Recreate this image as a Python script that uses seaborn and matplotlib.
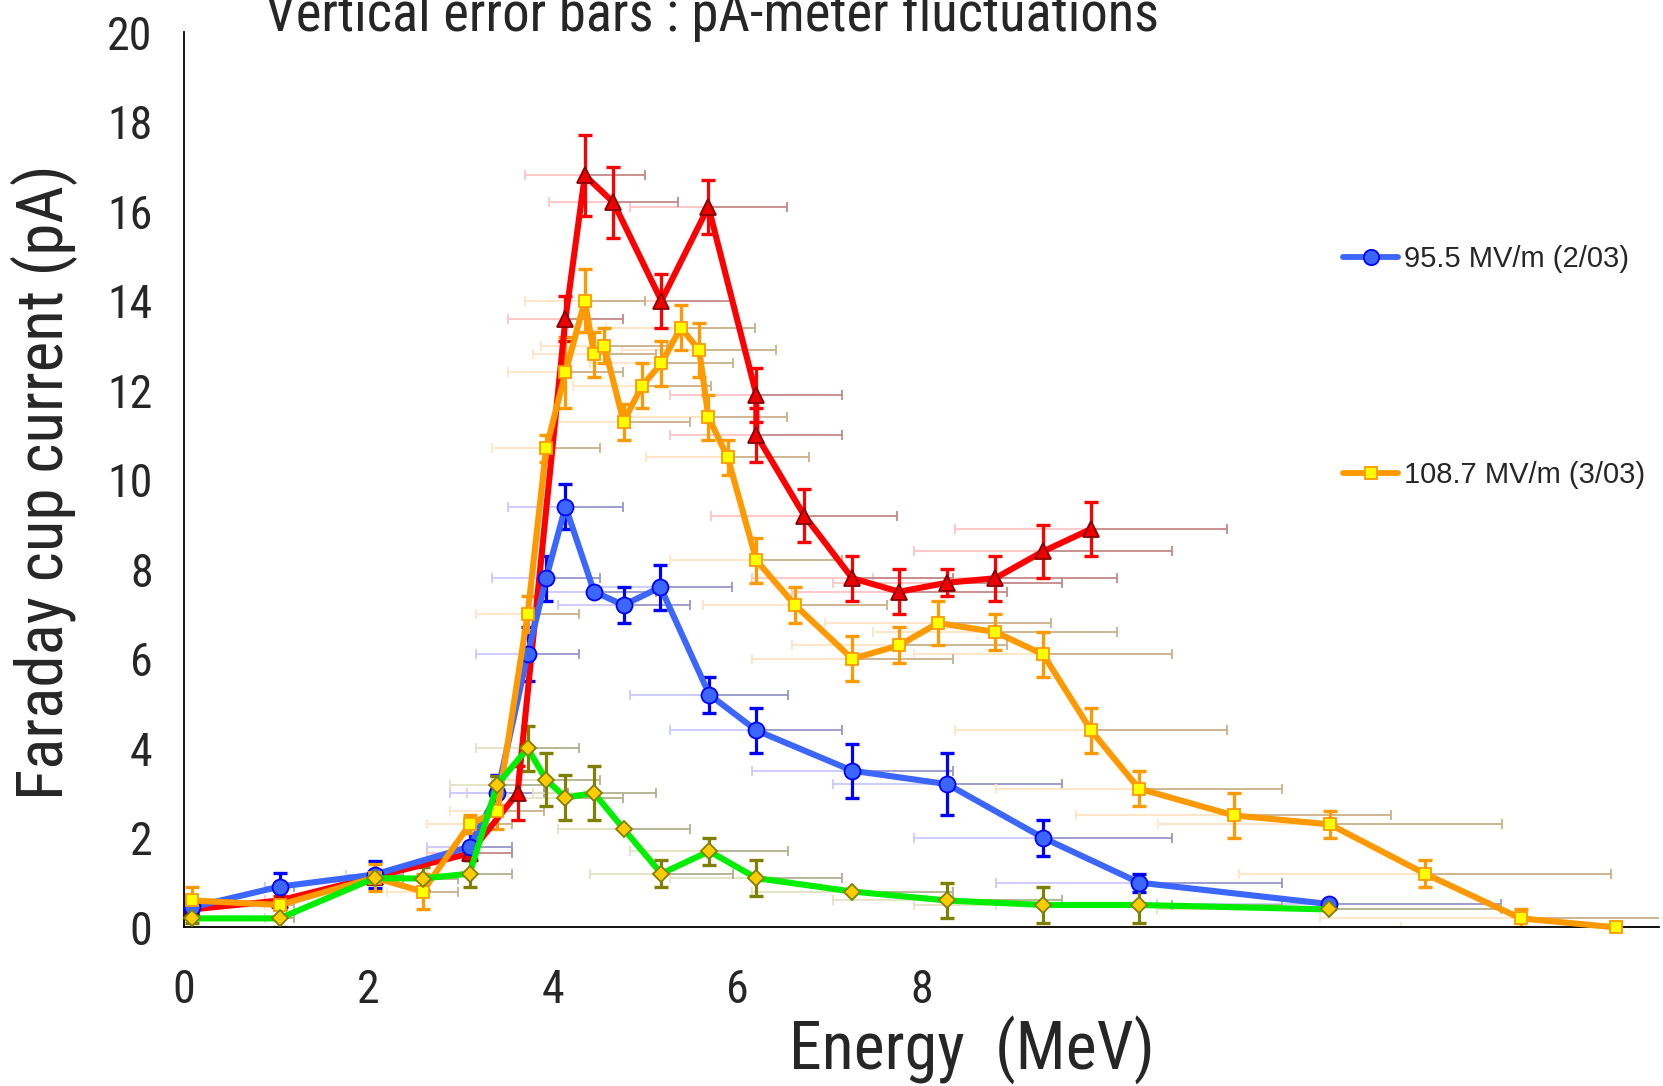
import numpy as np
import matplotlib
matplotlib.use("Agg")
import matplotlib.pyplot as plt
import seaborn as sns
from matplotlib import font_manager
from matplotlib.lines import Line2D
from matplotlib.ticker import MultipleLocator

# data (Energy in MeV, current in pA)
blue_x = [0.09, 1.04, 2.07, 3.10, 3.40, 3.73, 3.93, 4.14, 4.45, 4.77, 5.17, 5.70, 6.21, 7.25, 8.28, 9.32, 10.36, 12.42]
blue_y = [0.45, 0.91, 1.18, 1.80, 3.00, 6.10, 7.80, 9.40, 7.50, 7.20, 7.60, 5.20, 4.40, 3.50, 3.20, 2.00, 1.00, 0.52]
blue_err = [0.1, 0.3, 0.3, 0.3, 0.4, 0.6, 0.5, 0.5, 0.0, 0.4, 0.5, 0.4, 0.5, 0.6, 0.7, 0.4, 0.2, 0.0]

red_x = [0.09, 1.04, 2.07, 3.10, 3.62, 4.14, 4.35, 4.66, 5.18, 5.69, 6.21, 6.21, 6.73, 7.25, 7.76, 8.28, 8.80, 9.32, 9.84]
red_y = [0.40, 0.60, 1.13, 1.65, 3.00, 13.6, 16.8, 16.2, 14.0, 16.1, 11.9, 11.0, 9.2, 7.8, 7.5, 7.7, 7.8, 8.4, 8.9]
red_err = [0.15, 0.1, 0.1, 0.15, 0.6, 0.5, 0.9, 0.8, 0.6, 0.6, 0.6, 0.6, 0.6, 0.5, 0.5, 0.3, 0.5, 0.6, 0.6]

orange_x = [0.09, 1.04, 2.07, 2.59, 3.10, 3.40, 3.73, 3.93, 4.14, 4.35, 4.45, 4.56, 4.77, 4.97, 5.18, 5.39,
            5.59, 5.69, 5.90, 6.21, 6.63, 7.25, 7.76, 8.18, 8.80, 9.32, 9.84, 10.36, 11.39, 12.43, 13.46, 14.50, 15.53]
orange_y = [0.60, 0.50, 1.11, 0.80, 2.30, 2.60, 7.0, 10.7, 12.4, 14.0, 12.8, 13.0, 11.3, 12.1, 12.6, 13.4,
            12.9, 11.4, 10.5, 8.2, 7.2, 6.0, 6.3, 6.8, 6.6, 6.1, 4.4, 3.1, 2.5, 2.3, 1.2, 0.2, 0.0]
orange_err = [0.3, 0.1, 0.3, 0.4, 0.2, 0.4, 0.4, 0.3, 0.8, 0.7, 0.5, 0.4, 0.4, 0.5, 0.5, 0.5,
              0.6, 0.5, 0.4, 0.5, 0.4, 0.5, 0.4, 0.5, 0.4, 0.5, 0.5, 0.4, 0.5, 0.3, 0.3, 0.2, 0.0]

green_x = [0.09, 1.04, 2.07, 2.59, 3.10, 3.40, 3.73, 3.93, 4.14, 4.45, 4.77, 5.18, 5.70, 6.21, 7.25, 8.28, 9.32, 10.36, 12.42]
green_y = [0.20, 0.20, 1.10, 1.09, 1.20, 3.19, 4.00, 3.30, 2.90, 3.00, 2.20, 1.20, 1.70, 1.10, 0.80, 0.60, 0.50, 0.50, 0.40]
green_err = [0.1, 0.2, 0.1, 0.25, 0.3, 0.2, 0.5, 0.6, 0.5, 0.6, 0.0, 0.3, 0.3, 0.4, 0.0, 0.4, 0.4, 0.4, 0.0]

# horizontal bars: relative energy spread
x_res = 0.15

legend_labels = ["95.5 MV/m (2/03)", "108.7 MV/m (3/03)"]

# the original uses a narrow sans; take one if the box has it
installed = font_manager.fontManager.ttflist
names = {f.name for f in installed}
stretch = "normal"
narrow = None
for cand in ["Liberation Sans Narrow", "Roboto Condensed", "DejaVu Sans Condensed"]:
    if cand in names:
        narrow = cand
        break
if narrow is None and any(f.name == "DejaVu Sans" and f.stretch == "condensed" for f in installed):
    narrow, stretch = "DejaVu Sans", "condensed"
if narrow is None:
    narrow = "Roboto"

sns.set_style("white")
plt.rcParams["font.family"] = [narrow, "DejaVu Sans"]
plt.rcParams["font.stretch"] = stretch

fig = plt.figure(figsize=(16.63, 10.86), dpi=100)
ax = fig.add_axes([0.1105, 0.1461, 0.8871, 0.8242])

series = [
    # x, y, yerr, line, marker, face, edge, ms, errcolor, hlight, hdark
    (red_x, red_y, red_err, "#ff0000", "^", "#ee0000", "#880000", 12, "#ff0000", "#ffc4c4", "#c48888"),
    (blue_x, blue_y, blue_err, "#3b66ff", "o", "#3b66ff", "#0000ff", 11.5, "#0000ff", "#c8c8ff", "#9696cc"),
    (orange_x, orange_y, orange_err, "#ff9900", "s", "#ffff00", "#ff9900", 8.5, "#ff9900", "#ffe4c4", "#ccb088"),
    (green_x, green_y, green_err, "#00ee00", "D", "#ffcc00", "#808000", 8, "#808000", "#e2e2c4", "#b0b090"),
]

for x, y, yerr, lc, mk, mfc, mec, ms, ec, hl, hd in series:
    x = np.array(x)
    y = np.array(y)
    xe = x * x_res
    zero = np.zeros_like(x)
    ax.errorbar(x, y, xerr=[xe, zero], fmt="none", ecolor=hl, elinewidth=1.3, capsize=3.8, capthick=1.3, zorder=1)
    ax.errorbar(x, y, xerr=[zero, xe], fmt="none", ecolor=hd, elinewidth=1.3, capsize=3.8, capthick=1.3, zorder=1)
    ax.errorbar(x, y, yerr=yerr, fmt="none", ecolor=ec, elinewidth=2.3, capsize=5.2, capthick=2.4, zorder=2)
    sns.lineplot(x=x, y=y, ax=ax, estimator=None, sort=False, color=lc, linewidth=4.4,
                 marker=mk, markersize=ms, markerfacecolor=mfc, markeredgecolor=mec,
                 markeredgewidth=1.3, clip_on=False, zorder=3)

ax.set_xlim(0, 16)
ax.set_ylim(0, 20)
ax.set_xticks(np.arange(0, 16, 2))
ax.set_xticklabels(["0", "2", "4", "6", "8", "", "", ""])
ax.set_yticks(np.arange(0, 21, 2))
ax.xaxis.set_minor_locator(MultipleLocator(0.5))
ax.yaxis.set_minor_locator(MultipleLocator(0.5))
tick_size = 33 if narrow != "Roboto" else 28
ax.tick_params(which="major", direction="inout", length=19, width=1.1, color="#222222", labelsize=tick_size)
ax.tick_params(which="minor", direction="in", length=7, width=1.0, color="#333333")
ax.tick_params(axis="x", which="major", pad=20)
ax.tick_params(axis="y", which="major", pad=13)
for side in ["top", "right"]:
    ax.spines[side].set_visible(False)
for side in ["left", "bottom"]:
    ax.spines[side].set_linewidth(1.3)
    ax.spines[side].set_color("black")
ax.set_xlabel("")
ax.set_ylabel("")

xlab = fig.text(972 / 1663, 1 - 1050 / 1086, "Energy  (MeV)", ha="center", va="center", fontsize=44)
ylab = fig.text(44 / 1663, 1 - 482 / 1086, "Faraday cup current (pA)", ha="center", va="center",
                rotation=90, fontsize=44)
title = fig.text(712 / 1663, 1 - 31 / 1086, "Vertical error bars : pA-meter fluctuations",
                 ha="center", va="baseline", fontsize=38)

# scale the big texts to the widths they have in the original
renderer = fig.canvas.get_renderer()
for t, target, vertical in [(xlab, 366, False), (ylab, 636, True), (title, 895, False)]:
    bb = t.get_window_extent(renderer)
    size = bb.height if vertical else bb.width
    t.set_fontsize(t.get_fontsize() * target / size)

handles = [
    Line2D([], [], color="#3b66ff", lw=4.2, marker="o", ms=11, mfc="#3b66ff", mec="#0000ff", mew=1.3),
    Line2D([], [], color="#ff9900", lw=4.2, marker="s", ms=8.5, mfc="#ffff00", mec="#ff9900", mew=1.3),
]
for h, lab, ypix in zip(handles, legend_labels, [259, 475]):
    fig.legend(handles=[h], labels=[lab], loc="center left",
               bbox_to_anchor=(1343 / 1663, 1 - ypix / 1086), frameon=False,
               prop={"family": "Liberation Sans", "size": 21, "stretch": "normal"},
               handlelength=1.9, handletextpad=0.2, borderpad=0, borderaxespad=0)

fig.savefig("out.png", dpi=100, facecolor="white")
